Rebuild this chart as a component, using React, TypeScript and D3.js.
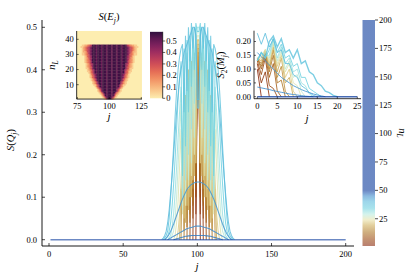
import React from "react";
import * as d3 from "d3";

const FONT = "'Liberation Serif', 'DejaVu Serif', serif";

// ---------- colormap for n_L ----------
const CMAP_POS = [0, 0.12, 0.25, 0.37, 0.47, 0.57, 0.68, 0.8, 0.9, 0.96, 1];
const CMAP_COL = ["#8a2a10", "#9c4a14", "#b07a2a", "#cfae5a", "#e8e2a8", "#b8ebe0", "#6ed0e0", "#5cbadc", "#3e8ccc", "#2058b0", "#0a3a9c"];
const NL_MIN = 1;
const NL_SAT = 50;
const NL_MAX = 200;
const CB_TICKS = [25, 50, 75, 100, 125, 150, 175, 200];

// ---------- main plot: S(Q_j) ----------
const MAIN_X_TICKS = [0, 50, 100, 150, 200];
const MAIN_Y_TICKS = [0, 0.1, 0.2, 0.3, 0.4, 0.5];
const MAIN_NL = [1, 4, 7, 10, 13, 16, 19, 22, 25, 28, 31, 34, 37, 40, 44, 45, 46];
const MAIN_J0 = [99, 97, 95, 93, 91, 89, 88, 86, 84, 82, 80, 78, 77, 76, 78, 80, 84];
const MAIN_VALUES: number[][] = [
  [0, 0.44, 0.44, 0],
  [0, 0.40, 0.06, 0.43, 0.43, 0.06, 0.40, 0],
  [0, 0.38, 0.05, 0.42, 0.10, 0.43, 0.43, 0.10, 0.42, 0.05, 0.38, 0],
  [0, 0.35, 0.04, 0.40, 0.08, 0.42, 0.12, 0.44, 0.44, 0.12, 0.42, 0.08, 0.40, 0.04, 0.35, 0],
  [0, 0.30, 0.03, 0.38, 0.06, 0.41, 0.09, 0.42, 0.14, 0.45, 0.45, 0.14, 0.42, 0.09, 0.41, 0.06, 0.38, 0.03, 0.30, 0],
  [0, 0.22, 0.02, 0.34, 0.05, 0.40, 0.08, 0.42, 0.12, 0.43, 0.18, 0.46, 0.46, 0.18, 0.43, 0.12, 0.42, 0.08, 0.40, 0.05, 0.34, 0.02, 0.22, 0],
  [0, 0.12, 0.10, 0.30, 0.04, 0.38, 0.07, 0.41, 0.10, 0.43, 0.15, 0.44, 0.47, 0.47, 0.44, 0.15, 0.43, 0.10, 0.41, 0.07, 0.38, 0.04, 0.30, 0.10, 0.12, 0],
  [0, 0.02, 0.06, 0.14, 0.24, 0.05, 0.34, 0.08, 0.40, 0.10, 0.42, 0.14, 0.44, 0.18, 0.47, 0.47, 0.18, 0.44, 0.14, 0.42, 0.10, 0.40, 0.08, 0.34, 0.05, 0.24, 0.14, 0.06, 0.02, 0],
  [0, 0.01, 0.04, 0.09, 0.17, 0.26, 0.06, 0.35, 0.08, 0.40, 0.12, 0.43, 0.15, 0.45, 0.20, 0.46, 0.48, 0.48, 0.46, 0.20, 0.45, 0.15, 0.43, 0.12, 0.40, 0.08, 0.35, 0.06, 0.26, 0.17, 0.09, 0.04, 0.01, 0],
  [0, 0.01, 0.02, 0.05, 0.10, 0.17, 0.25, 0.32, 0.07, 0.38, 0.10, 0.42, 0.14, 0.44, 0.18, 0.46, 0.24, 0.47, 0.49, 0.49, 0.47, 0.24, 0.46, 0.18, 0.44, 0.14, 0.42, 0.10, 0.38, 0.07, 0.32, 0.25, 0.17, 0.10, 0.05, 0.02, 0.01, 0],
  [0, 0.005, 0.01, 0.03, 0.06, 0.11, 0.17, 0.24, 0.30, 0.36, 0.10, 0.41, 0.14, 0.44, 0.20, 0.46, 0.26, 0.48, 0.32, 0.49, 0.50, 0.50, 0.49, 0.32, 0.48, 0.26, 0.46, 0.20, 0.44, 0.14, 0.41, 0.10, 0.36, 0.30, 0.24, 0.17, 0.11, 0.06, 0.03, 0.01, 0.005, 0],
  [0, 0.003, 0.008, 0.02, 0.04, 0.08, 0.13, 0.19, 0.26, 0.33, 0.38, 0.42, 0.15, 0.45, 0.22, 0.47, 0.30, 0.48, 0.36, 0.50, 0.40, 0.51, 0.49, 0.49, 0.51, 0.40, 0.50, 0.36, 0.48, 0.30, 0.47, 0.22, 0.45, 0.15, 0.42, 0.38, 0.33, 0.26, 0.19, 0.13, 0.08, 0.04, 0.02, 0.008, 0.003, 0],
  [0, 0.005, 0.01, 0.02, 0.05, 0.10, 0.16, 0.22, 0.29, 0.35, 0.40, 0.43, 0.45, 0.46, 0.30, 0.48, 0.35, 0.50, 0.42, 0.51, 0.45, 0.50, 0.49, 0.31, 0.31, 0.49, 0.50, 0.45, 0.51, 0.42, 0.50, 0.35, 0.48, 0.30, 0.46, 0.45, 0.43, 0.40, 0.35, 0.29, 0.22, 0.16, 0.10, 0.05, 0.02, 0.01, 0.005, 0],
  [0, 0.004, 0.01, 0.02, 0.04, 0.07, 0.11, 0.15, 0.20, 0.25, 0.30, 0.34, 0.38, 0.40, 0.42, 0.44, 0.45, 0.46, 0.47, 0.48, 0.49, 0.50, 0.50, 0.48, 0.33, 0.33, 0.48, 0.50, 0.50, 0.49, 0.48, 0.47, 0.46, 0.45, 0.44, 0.42, 0.40, 0.38, 0.34, 0.30, 0.25, 0.20, 0.15, 0.11, 0.07, 0.04, 0.02, 0.01, 0.004, 0],
  [0, 0.004, 0.008, 0.013, 0.02, 0.028, 0.037, 0.047, 0.057, 0.067, 0.077, 0.087, 0.096, 0.104, 0.111, 0.118, 0.123, 0.127, 0.13, 0.132, 0.134, 0.135, 0.136, 0.136, 0.135, 0.134, 0.132, 0.13, 0.127, 0.123, 0.118, 0.111, 0.104, 0.096, 0.087, 0.077, 0.067, 0.057, 0.047, 0.037, 0.028, 0.02, 0.013, 0.008, 0.004, 0],
  [0, 0.002, 0.004, 0.006, 0.008, 0.01, 0.012, 0.014, 0.016, 0.018, 0.02, 0.022, 0.024, 0.026, 0.027, 0.028, 0.029, 0.03, 0.031, 0.032, 0.032, 0.032, 0.032, 0.031, 0.03, 0.029, 0.028, 0.027, 0.026, 0.024, 0.022, 0.02, 0.018, 0.016, 0.014, 0.012, 0.01, 0.008, 0.006, 0.004, 0.002, 0],
  [0, 0.001, 0.002, 0.003, 0.004, 0.005, 0.006, 0.007, 0.008, 0.008, 0.009, 0.009, 0.01, 0.01, 0.01, 0.01, 0.01, 0.01, 0.01, 0.01, 0.01, 0.01, 0.009, 0.009, 0.008, 0.008, 0.007, 0.006, 0.005, 0.004, 0.003, 0.002, 0.001, 0],
];
const MAIN_ZERO_J = [1, 200];

// ---------- inset: S(E_j) heatmap ----------
const HEAT_X_TICKS = [75, 100, 125];
const HEAT_Y_TICKS = [10, 20, 30, 40];
const HEAT_CB_TICKS = [0, 0.1, 0.2, 0.3, 0.4, 0.5];
const HEAT_VMAX = 0.58;
const HEAT_LEVEL_STEP = 0.062; // value of one level digit
const HEAT_J_RANGE = [75, 125];
const HEAT_NL_RANGE = [1, 45];
// row n_L = index+1 ; non-zero cells start at column HEAT_START (j)
const HEAT_START = [96, 95, 94, 93, 92, 91, 91, 90, 89, 88, 87, 87, 86, 86, 85, 85, 85, 84, 83, 83, 82, 82, 82, 82, 81, 81, 81, 81, 81, 79, 79, 79, 79, 79, 78, 79, 100, 100, 100, 100, 100, 100, 100, 100, 100];
const HEAT_LEVELS = [
  "136" + "999" + "631",
  "136" + "89998" + "631",
  "136" + "9899989" + "631",
  "1247" + "9899989" + "7421",
  "1247" + "998999899" + "7421",
  "1247" + "99989998999" + "7421",
  "1357" + "99989998999" + "7531",
  "1357" + "8999899989998" + "7531",
  "1357" + "989998999899989" + "7531",
  "11357" + "989998999899989" + "75311",
  "12357" + "99899989998999899" + "75321",
  "12357" + "99899989998999899" + "75321",
  "12357" + "9998999899989998999" + "75321",
  "12457" + "9998999899989998999" + "75421",
  "12457" + "899989998999899989998" + "75421",
  "12457" + "899989998999899989998" + "75421",
  "13467" + "899989998999899989998" + "76431",
  "12457" + "98999899989998999899989" + "75421",
  "112457" + "98999899989998999899989" + "754211",
  "123467" + "98999899989998999899989" + "764321",
  "112457" + "9989998999899989998999899" + "754211",
  "123457" + "9989998999899989998999899" + "754321",
  "123467" + "9989998999899989998999899" + "764321",
  "123567" + "9989998999899989998999899" + "765321",
  "123457" + "999899989998999899989998999" + "754321",
  "123457" + "999899989998999899989998999" + "754321",
  "123467" + "999899989998999899989998999" + "764321",
  "123567" + "999899989998999899989998999" + "765321",
  "124567" + "999899989998999899989998999" + "765421",
  "1123457" + "89998999899989998999899989998" + "7543211",
  "1123467" + "89998999899989998999899989998" + "7643211",
  "1223567" + "89998999899989998999899989998" + "7653221",
  "1234567" + "89998999899989998999899989998" + "7654321",
  "1234567" + "89998999899989998999899989998" + "7654321",
  "11234567" + "89998999899989998999899989998" + "76543211",
  "11223456" + "999899989998999899989998999" + "65432211",
  "", "", "", "", "", "", "", "", "",
];
const MATTER_POS = [0, 0.1, 0.2, 0.3, 0.4, 0.5, 0.6, 0.7, 0.8, 0.9, 1];
const MATTER_COL = ["#fdedb0", "#facd91", "#f6ad77", "#f08d62", "#e56e56", "#d35257", "#ba3d5c", "#9d2d60", "#7d215d", "#5c1851", "#2f0f3d"];

// ---------- inset: S_2(M_j) ----------
const S2_X_TICKS = [0, 5, 10, 15, 20, 25];
const S2_Y_TICKS = [0, 0.05, 0.1, 0.15, 0.2];
const S2_NL = [1, 4, 7, 10, 13, 16, 19, 22, 25, 28, 31, 34, 37, 39, 44, 45];
const S2_VALUES: number[][] = [
  [0.10, 0],
  [0.12, 0.05, 0.09, 0],
  [0.13, 0.08, 0.14, 0.04, 0.03, 0],
  [0.14, 0.10, 0.15, 0.07, 0.12, 0.02, 0],
  [0.14, 0.11, 0.16, 0.09, 0.15, 0.05, 0.06, 0],
  [0.14, 0.12, 0.16, 0.10, 0.17, 0.07, 0.11, 0.02, 0],
  [0.14, 0.13, 0.17, 0.11, 0.18, 0.09, 0.14, 0.05, 0.07, 0],
  [0.14, 0.14, 0.17, 0.12, 0.19, 0.11, 0.15, 0.07, 0.10, 0.02, 0],
  [0.14, 0.15, 0.17, 0.13, 0.20, 0.12, 0.16, 0.09, 0.12, 0.05, 0.04, 0],
  [0.14, 0.15, 0.16, 0.14, 0.20, 0.13, 0.17, 0.10, 0.13, 0.07, 0.08, 0.02, 0],
  [0.13, 0.16, 0.15, 0.15, 0.21, 0.14, 0.18, 0.12, 0.14, 0.09, 0.10, 0.05, 0.04, 0.01, 0],
  [0.13, 0.16, 0.14, 0.17, 0.21, 0.16, 0.19, 0.14, 0.15, 0.11, 0.12, 0.07, 0.07, 0.03, 0.02, 0.01, 0],
  [0.13, 0.16, 0.14, 0.20, 0.22, 0.18, 0.21, 0.16, 0.17, 0.14, 0.17, 0.12, 0.13, 0.09, 0.08, 0.05, 0.04, 0.02, 0.015, 0.005, 0],
  [0.23, 0.19, 0.23, 0.18, 0.21, 0.16, 0.17, 0.12, 0.12, 0.08, 0.07, 0.04, 0.03, 0.015, 0.005, 0],
  [0.16, 0.145, 0.13, 0.115, 0.10, 0.085, 0.07, 0.06, 0.05, 0.04, 0.033, 0.026, 0.02, 0.015, 0.01, 0.006, 0.003, 0],
  [0.035, 0.032, 0.029, 0.026, 0.022, 0.019, 0.016, 0.013, 0.01, 0.008, 0.006, 0.004, 0.002, 0.001, 0],
];
const S2_ZERO_J = [0, 25];

export default function App() {
  const tScale = d3.scaleLinear().domain([NL_MIN, NL_SAT]).range([0, 1]).clamp(true);
  const cmap = d3.scaleLinear<string>().domain(CMAP_POS).range(CMAP_COL).interpolate(d3.interpolateRgb);
  const nlColor = (n: number) => cmap(tScale(n));

  // main scales
  const mx = d3.scaleLinear().domain([0, 200]).range([49, 345.7]);
  const my = d3.scaleLinear().domain([0, 0.5]).range([239.7, 27.3]);
  const mLine = d3.line<[number, number]>().x((d) => mx(d[0])).y((d) => my(d[1]));
  const mAxisL = 42, mAxisR = 354, mAxisT = 20, mAxisB = 246;

  // colorbar
  const cbY = d3.scaleLinear().domain([NL_MIN, NL_MAX]).range([246, 20]);
  const cbX0 = 362.5, cbX1 = 375;

  // heat inset
  const hx = d3.scaleLinear().domain([75, 125]).range([77.3, 141.3]);
  const hy = d3.scaleLinear().domain([10, 40]).range([84.7, 39.3]);
  const matter = d3.scaleLinear<string>().domain(MATTER_POS.map((p) => p * HEAT_VMAX)).range(MATTER_COL).interpolate(d3.interpolateRgb).clamp(true);
  const hcbY = d3.scaleLinear().domain([0, 0.5]).range([98.3, 41.0]);
  const hcbX0 = 150, hcbX1 = 162.7;

  // S2 inset
  const sx = d3.scaleLinear().domain([0, 25]).range([257.3, 357.3]);
  const sy = d3.scaleLinear().domain([0, 0.2]).range([96.7, 41.5]);
  const sLine = d3.line<[number, number]>().x((d) => sx(d[0])).y((d) => sy(d[1]));
  const sAxisL = 254, sAxisR = 361, sAxisT = 30.7, sAxisB = 98.7;

  const heatCells: React.ReactNode[] = [];
  HEAT_LEVELS.forEach((lv, i) => {
    const nl = HEAT_NL_RANGE[0] + i;
    for (let k = 0; k < lv.length; k++) {
      const level = +lv[k];
      if (!level) continue;
      const j = HEAT_START[i] + k;
      const x0 = hx(j - 0.5), x1 = hx(j + 0.5);
      const y0 = hy(nl + 0.5), y1 = hy(nl - 0.5);
      heatCells.push(
        <rect key={`h${i}-${k}`} x={x0} y={y0} width={x1 - x0 + 0.3} height={y1 - y0 + 0.3} fill={matter(level * HEAT_LEVEL_STEP)} />
      );
    }
  });

  const tickFs = 8.5;
  const fmt1 = d3.format(".1f");
  const fmt2 = d3.format(".2f");

  return (
    <svg width={415} height={277} style={{ position: "absolute", left: 0, top: 0, background: "#fff" }} fontFamily={FONT}>
      <defs>
        <linearGradient id="cbgrad" x1="0" y1="1" x2="0" y2="0">
          {CMAP_POS.map((t, i) => (
            <stop key={i} offset={(t * (NL_SAT - NL_MIN)) / (NL_MAX - NL_MIN)} stopColor={CMAP_COL[i]} />
          ))}
          <stop offset={1} stopColor={CMAP_COL[CMAP_COL.length - 1]} />
        </linearGradient>
        <linearGradient id="hcbgrad" x1="0" y1="1" x2="0" y2="0">
          {MATTER_POS.map((t, i) => (
            <stop key={i} offset={t} stopColor={MATTER_COL[i]} />
          ))}
        </linearGradient>
      </defs>

      {/* ===== main plot ===== */}
      <g>
        {MAIN_VALUES.map((vals, i) => {
          const pts: [number, number][] = vals.map((v, k) => [MAIN_J0[i] + k, v]);
          return (
            <path key={`m${i}`} d={mLine(pts) || ""} fill="none" stroke={nlColor(MAIN_NL[i])} strokeOpacity={0.85} strokeWidth={1.05} />
          );
        })}
        <path d={mLine(MAIN_ZERO_J.map((j) => [j, 0]) as [number, number][]) || ""} fill="none" stroke={nlColor(NL_MAX)} strokeOpacity={0.6} strokeWidth={1.6} />
        <line x1={mAxisL} x2={mAxisL} y1={mAxisT} y2={mAxisB} stroke="#000" strokeWidth={0.9} />
        <line x1={mAxisL} x2={mAxisR} y1={mAxisB} y2={mAxisB} stroke="#000" strokeWidth={0.9} />
        {MAIN_Y_TICKS.map((t) => (
          <g key={`my${t}`}>
            <line x1={mAxisL} x2={mAxisL + 3} y1={my(t)} y2={my(t)} stroke="#000" strokeWidth={0.7} />
            <text x={mAxisL - 5} y={my(t) + 2.8} fontSize={tickFs} textAnchor="end">{fmt1(t)}</text>
          </g>
        ))}
        {MAIN_X_TICKS.map((t) => (
          <g key={`mx${t}`}>
            <line x1={mx(t)} x2={mx(t)} y1={mAxisB} y2={mAxisB - 3} stroke="#000" strokeWidth={0.7} />
            <text x={mx(t)} y={mAxisB + 11} fontSize={tickFs} textAnchor="middle">{t}</text>
          </g>
        ))}
        <text x={197} y={270} fontSize={11} fontStyle="italic" textAnchor="middle">j</text>
        <text transform="translate(14,140) rotate(-90)" fontSize={10.5} textAnchor="middle">
          <tspan fontStyle="italic">S</tspan>
          <tspan>(</tspan>
          <tspan fontStyle="italic">Q</tspan>
          <tspan fontStyle="italic" fontSize={7.5} dy={2.5}>j</tspan>
          <tspan dy={-2.5}>)</tspan>
        </text>
      </g>

      {/* ===== main colorbar ===== */}
      <g>
        <rect x={cbX0} y={cbY(NL_MAX)} width={cbX1 - cbX0} height={cbY(NL_MIN) - cbY(NL_MAX)} fill="url(#cbgrad)" fillOpacity={0.6} />
        {CB_TICKS.map((t) => (
          <g key={`cb${t}`}>
            <line x1={cbX1} x2={cbX1 + 3} y1={cbY(t)} y2={cbY(t)} stroke="#000" strokeWidth={0.7} />
            <text x={cbX1 + 4} y={cbY(t) + 2.8} fontSize={tickFs}>{t}</text>
          </g>
        ))}
        <text transform="translate(399,133) rotate(90)" fontSize={10.5} textAnchor="middle">
          <tspan fontStyle="italic">n</tspan>
          <tspan fontStyle="italic" fontSize={7.5} dy={2.5}>L</tspan>
        </text>
      </g>

      {/* ===== heatmap inset ===== */}
      <g>
        <rect x={hx(HEAT_J_RANGE[0] - 0.5)} y={hy(HEAT_NL_RANGE[1] + 0.5)} width={hx(HEAT_J_RANGE[1] + 0.5) - hx(HEAT_J_RANGE[0] - 0.5)} height={hy(HEAT_NL_RANGE[0] - 0.5) - hy(HEAT_NL_RANGE[1] + 0.5)} fill={matter(0)} />
        {heatCells}
        <line x1={hx(74.5)} x2={hx(74.5)} y1={hy(45.5)} y2={hy(0.5)} stroke="#000" strokeWidth={0.8} />
        <line x1={hx(74.5)} x2={hx(125.5)} y1={hy(0.5)} y2={hy(0.5)} stroke="#000" strokeWidth={0.8} />
        {HEAT_X_TICKS.map((t) => (
          <g key={`hx${t}`}>
            <line x1={hx(t)} x2={hx(t)} y1={hy(0.5)} y2={hy(0.5) - 2} stroke="#000" strokeWidth={0.6} />
            <text x={hx(t)} y={hy(0.5) + 10} fontSize={tickFs} textAnchor="middle">{t}</text>
          </g>
        ))}
        {HEAT_Y_TICKS.map((t) => (
          <g key={`hy${t}`}>
            <line x1={hx(74.5)} x2={hx(74.5) + 2} y1={hy(t)} y2={hy(t)} stroke="#000" strokeWidth={0.6} />
            <text x={hx(74.5) - 3} y={hy(t) + 2.8} fontSize={tickFs} textAnchor="end">{t}</text>
          </g>
        ))}
        <text x={109} y={120} fontSize={11} fontStyle="italic" textAnchor="middle">j</text>
        <text transform="translate(55,65) rotate(-90)" fontSize={10.5} textAnchor="middle">
          <tspan fontStyle="italic">n</tspan>
          <tspan fontStyle="italic" fontSize={7.5} dy={2.5}>L</tspan>
        </text>
        <text x={109} y={20} fontSize={10.5} textAnchor="middle">
          <tspan fontStyle="italic">S</tspan>
          <tspan>(</tspan>
          <tspan fontStyle="italic">E</tspan>
          <tspan fontStyle="italic" fontSize={7.5} dy={2.5}>j</tspan>
          <tspan dy={-2.5}>)</tspan>
        </text>
        <rect x={hcbX0} y={hcbY(HEAT_VMAX)} width={hcbX1 - hcbX0} height={hcbY(0) - hcbY(HEAT_VMAX)} fill="url(#hcbgrad)" />
        <line x1={hcbX1} x2={hcbX1} y1={hcbY(HEAT_VMAX)} y2={hcbY(0)} stroke="#000" strokeWidth={0.7} />
        {HEAT_CB_TICKS.map((t) => (
          <g key={`hc${t}`}>
            <line x1={hcbX1} x2={hcbX1 + 2.5} y1={hcbY(t)} y2={hcbY(t)} stroke="#000" strokeWidth={0.6} />
            <text x={hcbX1 + 3.5} y={hcbY(t) + 2.8} fontSize={tickFs}>{t === 0 ? "0" : fmt1(t)}</text>
          </g>
        ))}
      </g>

      {/* ===== S2 inset ===== */}
      <g>
        {S2_VALUES.map((vals, i) => {
          const pts: [number, number][] = vals.map((v, k) => [k, v]);
          return (
            <path key={`s${i}`} d={sLine(pts) || ""} fill="none" stroke={nlColor(S2_NL[i])} strokeOpacity={0.85} strokeWidth={S2_NL[i] === 37 ? 1.4 : 1.0} />
          );
        })}
        <path d={sLine(S2_ZERO_J.map((j) => [j, 0]) as [number, number][]) || ""} fill="none" stroke={nlColor(NL_MAX)} strokeOpacity={0.75} strokeWidth={1.6} />
        <line x1={sAxisL} x2={sAxisL} y1={sAxisT} y2={sAxisB} stroke="#000" strokeWidth={0.8} />
        <line x1={sAxisL} x2={sAxisR} y1={sAxisB} y2={sAxisB} stroke="#000" strokeWidth={0.8} />
        {S2_X_TICKS.map((t) => (
          <g key={`sx${t}`}>
            <line x1={sx(t)} x2={sx(t)} y1={sAxisB} y2={sAxisB - 2} stroke="#000" strokeWidth={0.6} />
            <text x={sx(t)} y={sAxisB + 10} fontSize={tickFs} textAnchor="middle">{t}</text>
          </g>
        ))}
        {S2_Y_TICKS.map((t) => (
          <g key={`sy${t}`}>
            <line x1={sAxisL} x2={sAxisL + 2} y1={sy(t)} y2={sy(t)} stroke="#000" strokeWidth={0.6} />
            <text x={sAxisL - 3} y={sy(t) + 2.8} fontSize={tickFs} textAnchor="end">{fmt2(t)}</text>
          </g>
        ))}
        <text x={307} y={122} fontSize={11} fontStyle="italic" textAnchor="middle">j</text>
        <text transform="translate(224,65) rotate(-90)" fontSize={10.5} textAnchor="middle">
          <tspan fontStyle="italic">S</tspan>
          <tspan fontSize={7.5} dy={2.5}>2</tspan>
          <tspan dy={-2.5}>(</tspan>
          <tspan fontStyle="italic">M</tspan>
          <tspan fontStyle="italic" fontSize={7.5} dy={2.5}>j</tspan>
          <tspan dy={-2.5}>)</tspan>
        </text>
      </g>
    </svg>
  );
}
